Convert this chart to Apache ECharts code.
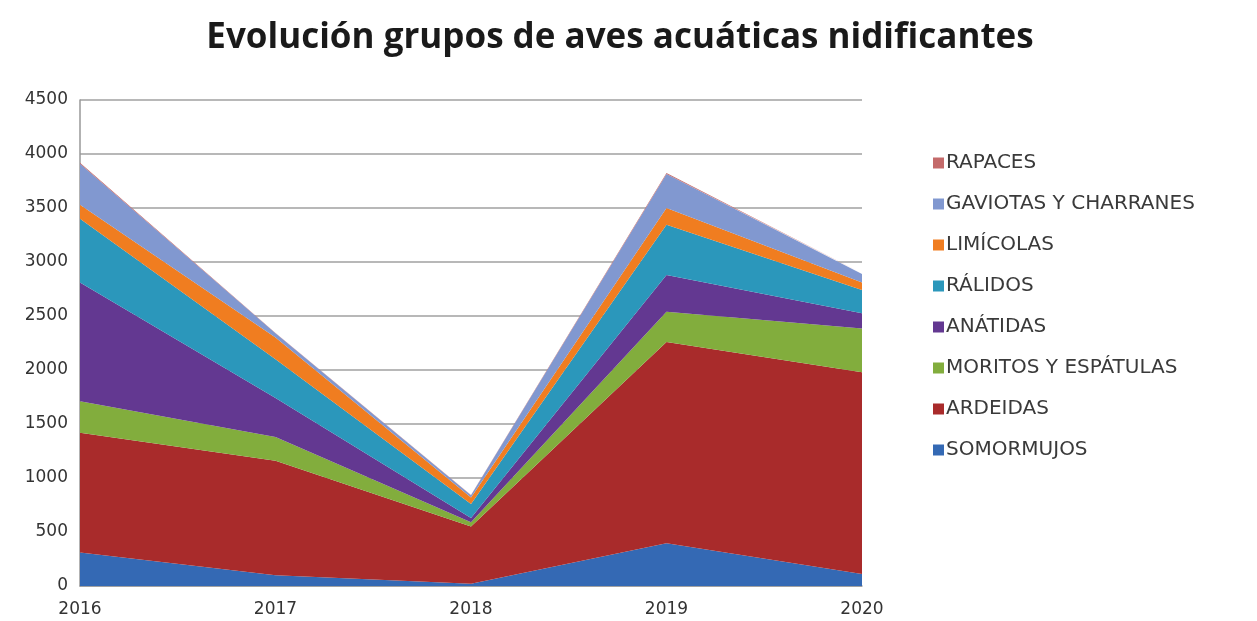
<!DOCTYPE html>
<html>
<head>
<meta charset="utf-8">
<script src="https://cdn.jsdelivr.net/npm/echarts@6/dist/echarts.min.js"></script>
<style>
html,body{margin:0;padding:0;background:#fff;}
#chart{width:1257px;height:621px;}
</style>
</head>
<body>
<div id="chart"></div>
<script>
var years = ['2016', '2017', '2018', '2019', '2020'];
var somormujos = [310, 100, 20, 395, 110];
var ardeidas = [1110, 1060, 530, 1865, 1870];
var moritos = [290, 220, 40, 280, 405];
var anatidas = [1100, 360, 40, 340, 140];
var ralidos = [590, 360, 130, 465, 215];
var limicolas = [130, 200, 60, 155, 70];
var gaviotas = [380, 40, 20, 315, 80];
var rapaces = [8, 3, 3, 8, 5];

var seriesNames = ['SOMORMUJOS', 'ARDEIDAS', 'MORITOS Y ESPÁTULAS', 'ANÁTIDAS', 'RÁLIDOS', 'LIMÍCOLAS', 'GAVIOTAS Y CHARRANES', 'RAPACES'];
var seriesData = [somormujos, ardeidas, moritos, anatidas, ralidos, limicolas, gaviotas, rapaces];
var colors = ['#3469b4', '#a92b2b', '#82ad3d', '#633891', '#2b97bb', '#f07d20', '#8198d0', '#c46a6a'];

var chart = echarts.init(document.getElementById('chart'));
var series = seriesNames.map(function (n, i) {
  return {
    name: n,
    type: 'line',
    stack: 'total',
    data: seriesData[i],
    showSymbol: false,
    symbol: 'none',
    lineStyle: { width: 0 },
    areaStyle: { color: colors[i], opacity: 1 },
    itemStyle: { color: colors[i] },
    emphasis: { disabled: true }
  };
});

chart.setOption({
  animation: false,
  backgroundColor: '#ffffff',
  title: {
    text: 'Evolución grupos de aves acuáticas nidificantes',
    left: 615,
    textAlign: 'center',
    top: 16,
    textStyle: { fontFamily: 'Open Sans', fontWeight: 'bold', fontSize: 35, color: '#1a1a1a' }
  },
  legend: {
    orient: 'vertical',
    left: 928,
    top: 148,
    itemWidth: 11,
    itemHeight: 11,
    itemGap: 21,
    icon: 'rect',
    data: seriesNames.slice().reverse(),
    textStyle: { fontFamily: 'DejaVu Sans', fontSize: 20, color: '#3a3a3a', padding: [0, 0, 0, -3], lineHeight: 20 }
  },
  grid: { left: 80, right: 395, top: 100, bottom: 35 },
  xAxis: {
    type: 'category',
    boundaryGap: false,
    data: years,
    axisTick: { show: false },
    axisLine: { lineStyle: { color: '#999', width: 1.5 } },
    axisLabel: { fontFamily: 'DejaVu Sans', fontSize: 17, color: '#333', margin: 15 }
  },
  yAxis: {
    type: 'value',
    min: 0,
    max: 4500,
    interval: 500,
    axisLine: { show: true, lineStyle: { color: '#999', width: 1.5 } },
    axisTick: { show: false },
    splitLine: { lineStyle: { color: '#a0a0a0', width: 1.5 } },
    axisLabel: {
      fontFamily: 'DejaVu Sans', fontSize: 17, color: '#333', margin: 12,
      formatter: function (v) { return String(v); }
    }
  },
  series: series
});
</script>
</body>
</html>
